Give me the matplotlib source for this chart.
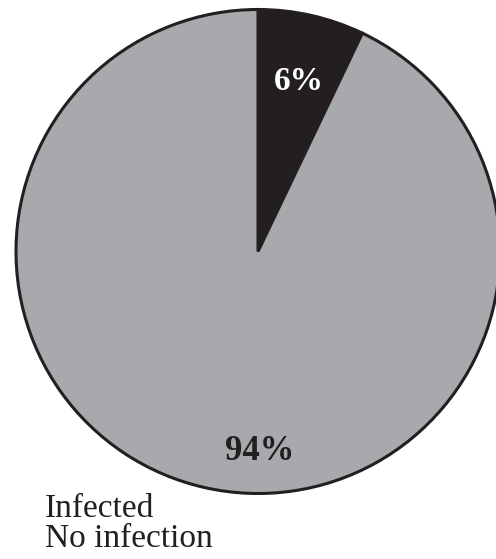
#Pie chart of infection status

import matplotlib
matplotlib.use('Agg')
import matplotlib.pyplot as plt

plt.rcParams['font.family'] = ['Liberation Serif', 'DejaVu Serif']

categories = ['Infected', 'No infection']
shares = [7.1, 92.9]          # wedge sizes as drawn
pct_labels = ['6%', '94%']    # labels as printed
colors = ['#231f20', '#a7a9ac']

fig = plt.figure(figsize=(4.96, 5.59), dpi=100)
# pie centre at (258, 251.5) px, radius 242 px
ax = fig.add_axes([16 / 496, 65.5 / 559, 484 / 496, 484 / 559])

wedges, _ = ax.pie(shares, colors=colors, startangle=90, counterclock=False,
                   wedgeprops=dict(edgecolor='#231f20', linewidth=2.2))
ax.set_xlim(-1, 1)
ax.set_ylim(-1, 1)

ax.text(0.169, 0.667, pct_labels[0], color='white', fontsize=24, fontweight='bold',
        ha='center', va='baseline')
ax.text(0.008, -0.862, pct_labels[1], color='#231f20', fontsize=25, fontweight='bold',
        ha='center', va='baseline')

fig.text(45 / 496, 1 - 517 / 559, categories[0], fontsize=24, color='#231f20',
         ha='left', va='baseline')
fig.text(45 / 496, 1 - 547 / 559, categories[1], fontsize=24, color='#231f20',
         ha='left', va='baseline')

fig.savefig('out.png', dpi=100)
plt.close()
